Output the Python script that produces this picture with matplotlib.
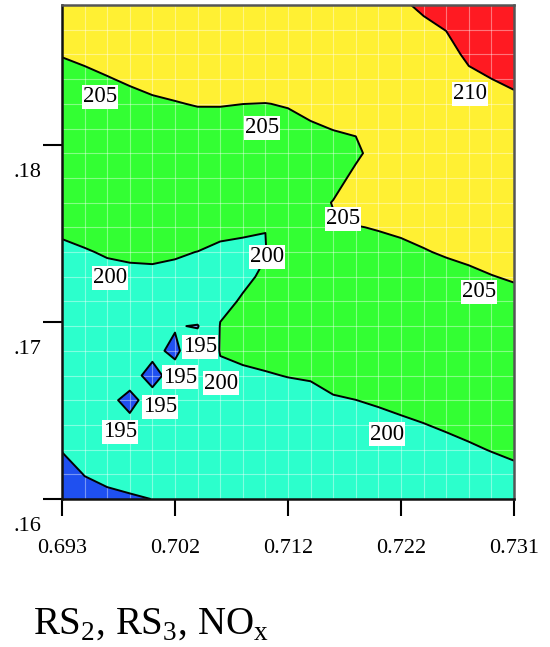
import numpy as np
import matplotlib
matplotlib.use("Agg")
import matplotlib.pyplot as plt
from matplotlib import transforms as mtransforms

plt.rcParams["font.family"] = "Liberation Serif"
plt.rcParams["mathtext.fontset"] = "custom"
plt.rcParams["mathtext.rm"] = "Liberation Serif"

# sample grid of the response surface (21 x 21 nodes)
x_nodes = np.linspace(0.693, 0.731, 21)
y_nodes = np.linspace(0.16, 0.1879, 21)

# response values, top row first
z_rows = [
    [206.50, 206.70, 207.00, 207.30, 207.70, 208.00, 208.30, 208.60, 208.80, 209.00, 209.10, 209.20, 209.35, 209.50, 209.60, 209.80, 210.25, 210.57, 211.53, 211.89, 212.20],
    [205.79, 206.01, 206.31, 206.60, 206.96, 207.23, 207.50, 207.73, 207.85, 207.99, 208.10, 208.27, 208.49, 208.66, 209.10, 209.29, 209.69, 210.03, 210.91, 211.26, 211.56],
    [205.08, 205.32, 205.61, 205.90, 206.22, 206.46, 206.70, 206.86, 206.90, 206.98, 207.09, 207.35, 207.63, 207.82, 208.60, 208.79, 209.16, 209.49, 210.29, 210.63, 210.92],
    [204.39, 204.64, 204.91, 205.20, 205.48, 205.68, 205.90, 205.98, 205.96, 205.98, 206.09, 206.42, 206.77, 206.98, 208.10, 208.28, 208.63, 208.95, 209.67, 209.99, 210.28],
    [203.71, 203.96, 204.23, 204.49, 204.74, 204.91, 205.10, 205.11, 205.01, 204.97, 205.09, 205.50, 205.91, 206.13, 207.60, 207.78, 208.10, 208.41, 209.06, 209.37, 209.64],
    [203.02, 203.28, 203.55, 203.78, 204.00, 204.12, 204.26, 204.20, 204.07, 203.98, 204.59, 204.78, 205.05, 205.35, 207.09, 207.27, 207.57, 207.87, 208.44, 208.74, 209.00],
    [202.34, 202.59, 202.87, 203.08, 203.26, 203.32, 203.41, 203.29, 203.14, 202.99, 204.14, 204.32, 204.30, 204.25, 206.60, 206.77, 207.04, 207.33, 207.82, 208.11, 208.36],
    [201.66, 201.91, 202.19, 202.37, 202.52, 202.53, 202.55, 202.37, 202.21, 202.00, 203.68, 203.86, 203.48, 205.97, 206.10, 206.27, 206.52, 206.79, 207.20, 207.48, 207.72],
    [200.98, 201.23, 201.51, 201.67, 201.78, 201.74, 201.70, 201.46, 201.28, 201.02, 203.23, 203.39, 205.18, 205.90, 205.60, 205.76, 205.99, 206.24, 206.59, 206.85, 207.08],
    [200.30, 200.54, 200.83, 200.96, 201.04, 200.95, 200.85, 200.54, 200.36, 200.03, 202.77, 202.93, 204.49, 204.93, 205.10, 205.26, 205.46, 205.70, 205.97, 206.22, 206.44],
    [199.67, 199.89, 200.14, 200.26, 200.30, 200.16, 199.98, 199.60, 199.50, 199.90, 202.32, 202.46, 203.83, 204.20, 204.43, 204.66, 204.91, 205.15, 205.35, 205.59, 205.80],
    [199.10, 199.35, 199.57, 199.66, 199.69, 199.62, 199.56, 199.30, 199.65, 200.28, 201.87, 202.00, 203.17, 203.50, 203.72, 203.95, 204.20, 204.49, 204.70, 204.95, 205.16],
    [198.52, 198.81, 199.03, 199.13, 199.17, 199.14, 199.12, 199.50, 200.18, 200.60, 201.41, 201.53, 202.51, 202.80, 203.01, 203.25, 203.49, 203.77, 203.99, 204.26, 204.49],
    [197.94, 198.28, 198.50, 198.60, 198.65, 195.25, 194.75, 200.10, 200.50, 200.80, 200.96, 201.07, 201.85, 202.10, 202.31, 202.54, 202.78, 203.06, 203.29, 203.56, 203.80],
    [197.37, 197.74, 197.96, 198.07, 195.80, 194.30, 197.48, 200.10, 200.30, 200.50, 200.50, 200.60, 201.18, 201.40, 201.60, 201.83, 202.07, 202.35, 202.59, 202.86, 203.11],
    [196.79, 197.20, 197.42, 196.10, 194.00, 196.30, 197.80, 199.62, 199.78, 199.89, 200.05, 200.14, 200.52, 200.70, 200.89, 201.13, 201.36, 201.63, 201.89, 202.17, 202.42],
    [196.21, 196.66, 195.65, 194.30, 196.10, 197.22, 197.36, 198.88, 199.06, 199.21, 199.39, 199.54, 199.85, 199.99, 200.19, 200.42, 200.65, 200.92, 201.19, 201.47, 201.73],
    [195.64, 196.12, 196.35, 195.65, 196.56, 196.74, 196.92, 198.13, 198.35, 198.54, 198.72, 198.88, 199.16, 199.31, 199.51, 199.73, 199.95, 200.21, 200.49, 200.77, 201.04],
    [195.06, 195.58, 195.81, 195.95, 196.04, 196.26, 196.48, 197.39, 197.63, 197.86, 198.05, 198.22, 198.47, 198.63, 198.84, 199.05, 199.26, 199.50, 199.77, 200.07, 200.35],
    [194.48, 195.04, 195.28, 195.41, 195.52, 195.78, 196.04, 196.64, 196.91, 197.18, 197.37, 197.56, 197.79, 197.96, 198.17, 198.38, 198.58, 198.80, 199.04, 199.29, 199.57],
    [193.90, 194.50, 194.74, 194.88, 195.01, 195.30, 195.60, 195.90, 196.20, 196.50, 196.70, 196.90, 197.10, 197.30, 197.50, 197.70, 197.90, 198.10, 198.30, 198.50, 198.70],
]
Z = np.array(z_rows)[::-1]

levels = [195, 200, 205, 210]
band_edges = [190] + levels + [215]
band_colors = ["#1f50f0", "#2cffcc", "#33ff33", "#fff033", "#ff1a22"]

# where each contour value is written (index into levels)
label_idx = [2, 2, 2, 2, 3, 1, 1, 1, 1, 0, 0, 0, 0]
label_xy = [(0.69619, 0.18271), (0.70981, 0.18096), (0.71662, 0.17582),
            (0.72806, 0.17170), (0.72730, 0.18288), (0.69704, 0.17249),
            (0.71023, 0.17367), (0.70637, 0.16655), (0.72032, 0.16367),
            (0.70460, 0.16859), (0.70292, 0.16689), (0.70124, 0.16520),
            (0.69788, 0.16379)]

x_ticks = np.linspace(0.693, 0.731, 5)
x_ticklabels = ["0.693", "0.702", "0.712", "0.722", "0.731"]
y_ticks = [0.16, 0.17, 0.18]
y_ticklabels = [".16", ".17", ".18"]

fig = plt.figure(figsize=(5.5, 6.47), dpi=100)
ax = fig.add_axes([62 / 550, 1 - 499 / 647, 452 / 550, 494 / 647])

ax.contourf(x_nodes, y_nodes, Z, levels=band_edges, colors=band_colors, zorder=1)

# faint white mesh
for gx in np.linspace(0.693, 0.731, 21)[1:-1]:
    ax.axvline(gx, color="white", lw=0.8, alpha=0.4, zorder=1.5)
for gy in np.linspace(0.16, 0.1879, 21)[1:-1]:
    ax.axhline(gy, color="white", lw=0.8, alpha=0.4, zorder=1.5)

ax.contour(x_nodes, y_nodes, Z, levels=levels, colors="black", linewidths=1.4, zorder=2)

for k, (lx, ly) in zip(label_idx, label_xy):
    ax.text(lx, ly, str(levels[k]), ha="center", va="center", fontsize=16.5,
            bbox=dict(facecolor="white", edgecolor="none", pad=1), zorder=3)

ax.set_xlim(0.693, 0.731)
ax.set_ylim(0.16, 0.1879)
ax.set_xticks(x_ticks, x_ticklabels)
ax.set_yticks(y_ticks, y_ticklabels)
ax.tick_params(axis="x", length=12, width=1.5, pad=17, labelsize=16)
ax.tick_params(axis="y", length=14, width=1.5, pad=1, labelsize=16)

# y labels sit under their ticks
shift = mtransforms.ScaledTranslation(0, -0.25, fig.dpi_scale_trans)
for lab in ax.get_yticklabels():
    lab.set_transform(lab.get_transform() + shift)

for side in ["left", "bottom"]:
    ax.spines[side].set_linewidth(1.8)
    ax.spines[side].set_color("#111111")
for side in ["top", "right"]:
    ax.spines[side].set_linewidth(1.8)
    ax.spines[side].set_color("#555555")

fig.text(33 / 550, 1 - 624 / 647, r"RS$_\mathrm{2}$, RS$_\mathrm{3}$, NO$_\mathrm{x}$",
         fontsize=28, ha="left", va="center")

fig.savefig("out.png", dpi=100)
